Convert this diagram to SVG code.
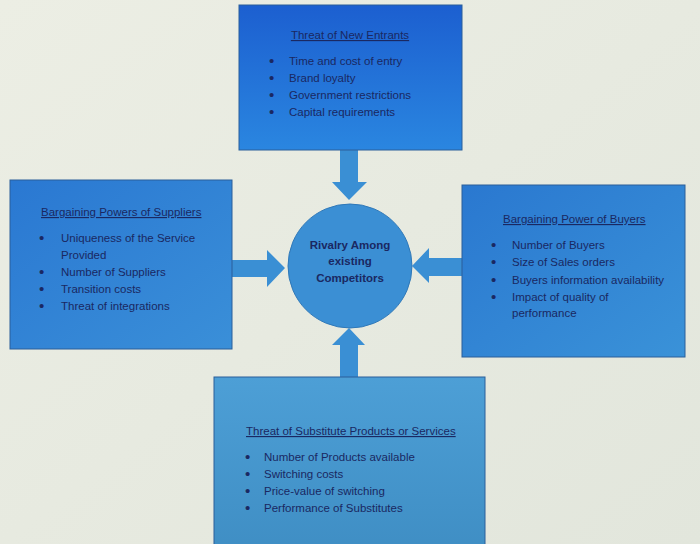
<svg xmlns="http://www.w3.org/2000/svg" width="700" height="544" viewBox="0 0 700 544">
<defs>
<linearGradient id="gTop" x1="0" y1="0" x2="0" y2="1"><stop offset="0" stop-color="#1c5fd0"/><stop offset="1" stop-color="#2a86e0"/></linearGradient>
<linearGradient id="gLeft" x1="0" y1="0" x2="1" y2="1"><stop offset="0" stop-color="#2a78d2"/><stop offset="1" stop-color="#3a8fd8"/></linearGradient>
<linearGradient id="gRight" x1="0" y1="0" x2="1" y2="1"><stop offset="0" stop-color="#2a78d0"/><stop offset="1" stop-color="#3a92d8"/></linearGradient>
<linearGradient id="gBot" x1="0" y1="0" x2="0" y2="1"><stop offset="0" stop-color="#4d9fd6"/><stop offset="1" stop-color="#3f8ec4"/></linearGradient>
<linearGradient id="gBg" x1="0" y1="0" x2="1" y2="1"><stop offset="0" stop-color="#eceee4"/><stop offset="1" stop-color="#e2e6dc"/></linearGradient>
<style>
.box{stroke:#2a5f9a;stroke-width:1}
.t{font-family:"Liberation Sans","Open Sans",sans-serif;font-size:11.5px;fill:#1a2862}
.d{font-size:15px}
.h{text-decoration:underline}
.b{font-weight:bold;text-anchor:middle}
.arr{fill:#3a8fd4}
</style>
</defs>
<rect width="700" height="544" fill="url(#gBg)"/>
<g id="connectors">
<polygon class="arr" points="340,150 358,150 358,182 367,182 349,200 332,182 340,182"/>
<polygon class="arr" points="232,260 267,260 267,250 285,268 267,287 267,277 232,277"/>
<polygon class="arr" points="462,258 429,258 429,248 412,266 429,283 429,276 462,276"/>
<polygon class="arr" points="340,377 340,345 332,345 349,328 365,345 358,345 358,377"/>
</g>
<g id="top">
<rect class="box" x="239" y="5" width="223" height="145" fill="url(#gTop)"/>
<text class="t h" x="350" y="39" text-anchor="middle">Threat of New Entrants</text>
<text class="t d" x="269" y="66">•</text><text class="t" x="289" y="65">Time and cost of entry</text>
<text class="t d" x="269" y="83">•</text><text class="t" x="289" y="82">Brand loyalty</text>
<text class="t d" x="269" y="100">•</text><text class="t" x="289" y="99">Government restrictions</text>
<text class="t d" x="269" y="117">•</text><text class="t" x="289" y="116">Capital requirements</text>
</g>
<g id="left">
<rect class="box" x="10" y="180" width="222" height="169" fill="url(#gLeft)"/>
<text class="t h" x="41" y="216">Bargaining Powers of Suppliers</text>
<text class="t d" x="39" y="243">•</text><text class="t" x="61" y="242">Uniqueness of the Service</text>
<text class="t" x="61" y="259">Provided</text>
<text class="t d" x="39" y="277">•</text><text class="t" x="61" y="276">Number of Suppliers</text>
<text class="t d" x="39" y="294">•</text><text class="t" x="61" y="293">Transition costs</text>
<text class="t d" x="39" y="311">•</text><text class="t" x="61" y="310">Threat of integrations</text>
</g>
<g id="right">
<rect class="box" x="462" y="185" width="223" height="172" fill="url(#gRight)"/>
<text class="t h" x="503" y="223">Bargaining Power of Buyers</text>
<text class="t d" x="491" y="250">•</text><text class="t" x="512" y="249">Number of Buyers</text>
<text class="t d" x="491" y="267">•</text><text class="t" x="512" y="266">Size of Sales orders</text>
<text class="t d" x="491" y="285">•</text><text class="t" x="512" y="284">Buyers information availability</text>
<text class="t d" x="491" y="302">•</text><text class="t" x="512" y="301">Impact of quality of</text>
<text class="t" x="512" y="317">performance</text>
</g>
<g id="bottom">
<rect class="box" x="214" y="377" width="271" height="175" fill="url(#gBot)"/>
<text class="t h" x="246" y="435">Threat of Substitute Products or Services</text>
<text class="t d" x="245" y="462">•</text><text class="t" x="264" y="461">Number of Products available</text>
<text class="t d" x="245" y="479">•</text><text class="t" x="264" y="478">Switching costs</text>
<text class="t d" x="245" y="496">•</text><text class="t" x="264" y="495">Price-value of switching</text>
<text class="t d" x="245" y="513">•</text><text class="t" x="264" y="512">Performance of Substitutes</text>
</g>
<g id="center">
<circle cx="350" cy="266" r="62" fill="#3b8fd4" stroke="#2f78b8" stroke-width="1"/>
<text class="t b" x="350" y="249">Rivalry Among</text>
<text class="t b" x="350" y="265">existing</text>
<text class="t b" x="350" y="282">Competitors</text>
</g>
</svg>
